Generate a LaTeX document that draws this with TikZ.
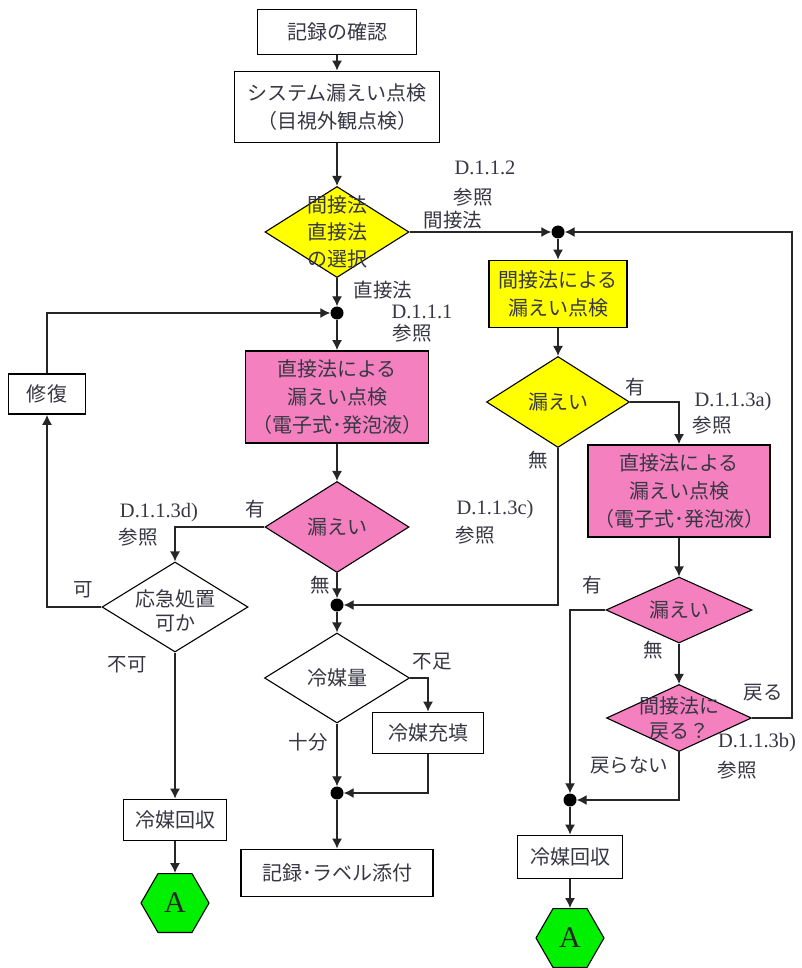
\documentclass[tikz,border=0pt]{standalone}
\usepackage{fontspec}
\setmainfont{Liberation Serif}
\newfontfamily\jp{Noto Sans CJK JP}
\usetikzlibrary{shapes.geometric,arrows.meta}
\definecolor{pinkfill}{RGB}{244,128,192}
\definecolor{txt}{RGB}{55,55,68}
\definecolor{ylw}{RGB}{255,255,0}
\definecolor{grn}{RGB}{0,240,0}
\begin{document}
\begin{tikzpicture}[x=1pt,y=-1pt,
  every node/.style={font=\jp\fontsize{20}{28}\selectfont, text=txt},
  box/.style={draw=black, line width=1.8pt, fill=white, align=center, inner sep=0pt},
  dia/.style={diamond, draw=black, line width=1.1pt, inner sep=0pt},
  jdot/.style={circle, fill=black, inner sep=0pt, minimum size=13pt},
  arr/.style={-{Latex[length=10pt,width=10pt]}, line width=1.3pt, draw=black!85},
  lbl/.style={font=\jp\fontsize{19.5}{24}\selectfont, text=txt, inner sep=0pt},
  dref/.style={font=\fontsize{20.5}{24}\selectfont, text=txt, inner sep=0pt},
  hex/.style={regular polygon, regular polygon sides=6, draw=black, fill=grn, minimum size=68pt, inner sep=0pt, line width=1.1pt, font=\fontsize{30}{30}\selectfont, text=black!85}
]
\useasboundingbox (0,0) rectangle (801,968);
\fill[white] (0,0) rectangle (801,968);

% center column
\node[box, minimum width=159pt, minimum height=45pt] (n1) at (337,32) {記録の確認};
\node[box, minimum width=205pt, minimum height=71pt] (n2) at (337,107) {システム漏えい点検\\（目視外観点検）};
\node[dia, fill=ylw, minimum width=144pt, minimum height=91pt,
  label={[align=center, font=\jp\fontsize{20}{27}\selectfont, text=txt]center:間接法\\直接法\\の選択}] (d1) at (337,232) {};
\node[jdot] (j1) at (337,313) {};
\node[box, fill=pinkfill, minimum width=183pt, minimum height=92pt] (p1) at (337,397) {直接法による\\漏えい点検\\（電子式･発泡液）};
\node[dia, fill=pinkfill, minimum width=144pt, minimum height=91pt,
  label={[text=txt]center:漏えい}] (d2) at (337,527) {};
\node[jdot] (j2) at (337,605) {};
\node[dia, fill=white, minimum width=145pt, minimum height=90pt,
  label={[text=txt]center:冷媒量}] (d3) at (337,678) {};
\node[box, minimum width=111pt, minimum height=41pt] (bf) at (428,733) {冷媒充填};
\node[jdot] (j3) at (337,793) {};
\node[box, minimum width=192pt, minimum height=47pt] (br) at (337,873) {記録･ラベル添付};

% left column
\node[box, minimum width=77pt, minimum height=40pt] (bs) at (47,394) {修復};
\node[dia, fill=white, minimum width=146pt, minimum height=90pt,
  label={[align=center, font=\jp\fontsize{20}{24}\selectfont, text=txt, yshift=-4pt]center:応急処置\\可か}] (d4) at (175,607) {};
\node[box, minimum width=103pt, minimum height=41pt] (bl) at (175,820) {冷媒回収};
\node[hex] (hl) at (175,903) {A};

% right column
\node[jdot] (j4) at (558,232) {};
\node[box, fill=ylw, minimum width=138pt, minimum height=67pt] (y1) at (558,294) {間接法による\\漏えい点検};
\node[dia, fill=ylw, minimum width=143pt, minimum height=91pt,
  label={[text=txt]center:漏えい}] (d5) at (558,402) {};
\node[box, fill=pinkfill, minimum width=182pt, minimum height=92pt] (p2) at (679,491) {直接法による\\漏えい点検\\（電子式･発泡液）};
\node[dia, fill=pinkfill, minimum width=146pt, minimum height=66pt,
  label={[text=txt]center:漏えい}] (d6) at (679,610) {};
\node[dia, fill=pinkfill, minimum width=145pt, minimum height=67pt,
  label={[align=center, font=\jp\fontsize{20}{25}\selectfont, text=txt]center:間接法に\\戻る？}] (d7) at (679,718) {};
\node[jdot] (j5) at (570,800) {};
\node[box, minimum width=105pt, minimum height=43pt] (bR) at (570,857) {冷媒回収};
\node[hex] (hr) at (570,938) {A};
\coordinate (rt) at (792,232);

% connectors
\draw[arr] (n1) -- (n2);
\draw[arr] (n2) -- (d1);
\draw[arr] (d1) -- (j1);
\draw[arr] (d1.east) -- (j4);
\draw[arr] (j1) -- (p1);
\draw[arr] (p1) -- (d2);
\draw[arr] (d2.west) -| (d4.north);
\draw[arr] (d2) -- (j2);
\draw[arr] (j2) -- (d3);
\draw[arr] (d3.east) -| (bf.north);
\draw[arr] (d3) -- (j3);
\draw[arr] (bf.south) |- (j3);
\draw[arr] (j3) -- (br);
\draw[arr] (d4.west) -| (bs.south);
\draw[arr] (bs.north) |- (j1);
\draw[arr] (d4) -- (bl);
\draw[arr] (bl) -- (hl);
\draw[arr] (j4) -- (y1);
\draw[arr] (y1) -- (d5);
\draw[arr] (d5.east) -| (p2.north);
\draw[arr] (d5.south) |- (j2);
\draw[arr] (p2) -- (d6);
\draw[arr] (d6.west) -| (j5);
\draw[arr] (d6) -- (d7);
\draw[arr] (d7.east) -| (rt) -- (j4);
\draw[arr] (d7.south) |- (j5);
\draw[arr] (j5) -- (bR);
\draw[arr] (bR) -- (hr);

% labels
\node[dref] (t1) at (485,168) {D.1.1.2};
\node[lbl] (t2) at (473,197) {参照};
\node[lbl] (t3) at (453,220) {間接法};
\node[lbl] (t4) at (383,290) {直接法};
\node[dref] (t5) at (422,312) {D.1.1.1};
\node[lbl] (t6) at (412,333) {参照};
\node[lbl] (t7) at (635,387) {有};
\node[dref] (t8) at (733,402) {D.1.1.3a)};
\node[lbl] (t9) at (712,425) {参照};
\node[lbl] (t10) at (538,460) {無};
\node[dref] (t11) at (495,510) {D.1.1.3c)};
\node[lbl] (t12) at (475,535) {参照};
\node[dref] (t13) at (159,513) {D.1.1.3d)};
\node[lbl] (t14) at (138,537) {参照};
\node[lbl] (t15) at (255,509) {有};
\node[lbl] (t16) at (83,590) {可};
\node[lbl] (t17) at (320,585) {無};
\node[lbl] (t18) at (127,665) {不可};
\node[lbl] (t19) at (432,662) {不足};
\node[lbl] (t20) at (308,742) {十分};
\node[lbl] (t21) at (592,585) {有};
\node[lbl] (t22) at (653,650) {無};
\node[lbl] (t23) at (763,693) {戻る};
\node[dref] (t24) at (757,743) {D.1.1.3b)};
\node[lbl] (t25) at (737,770) {参照};
\node[lbl] (t26) at (629,765) {戻らない};
\end{tikzpicture}
\end{document}
